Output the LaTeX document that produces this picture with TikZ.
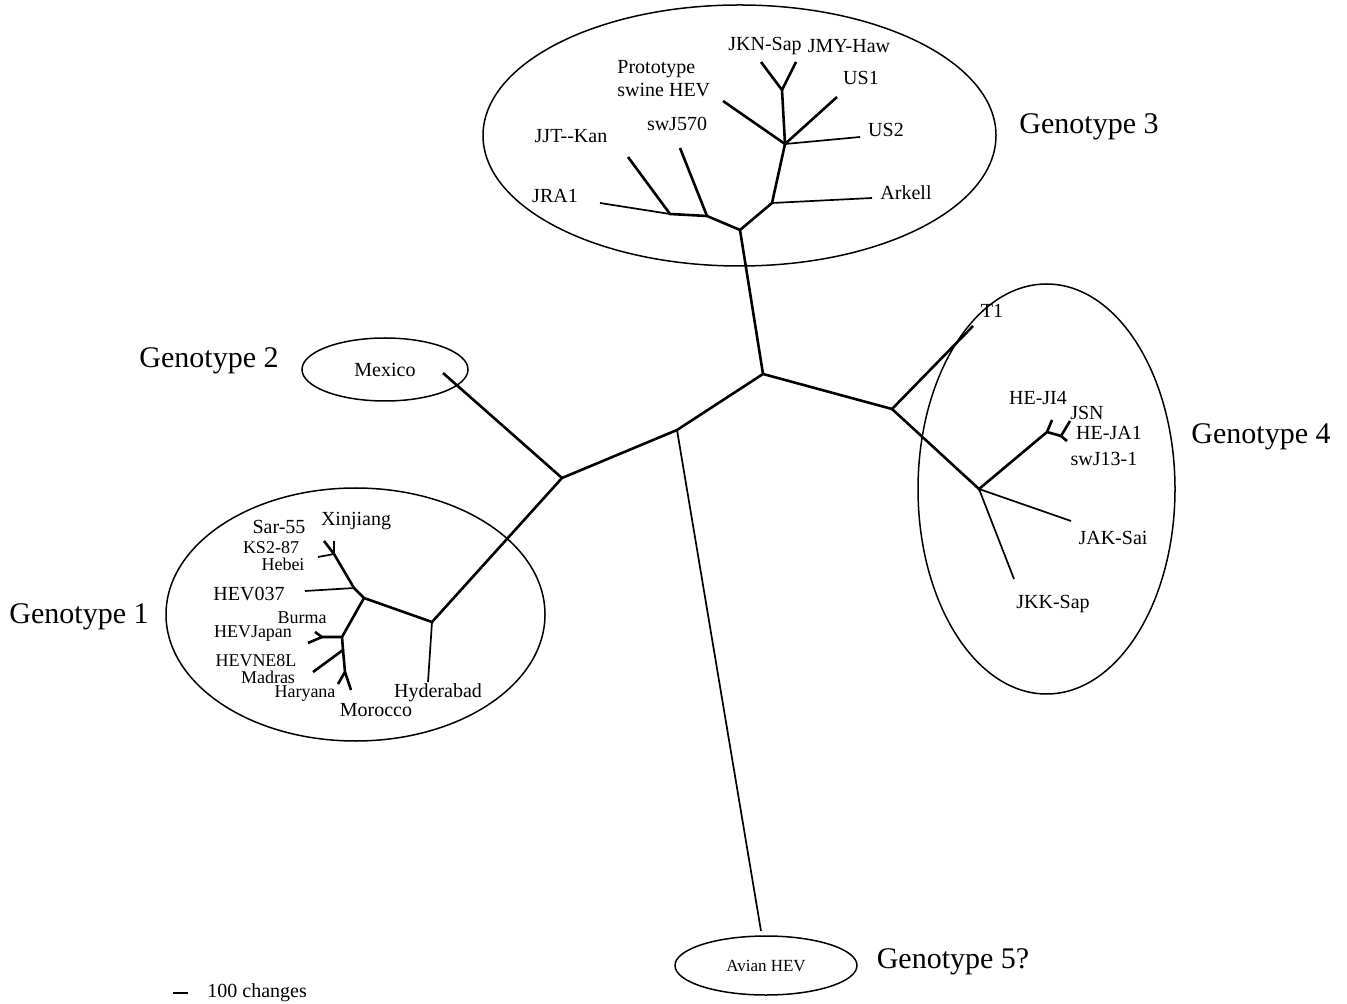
\documentclass[tikz,border=0pt]{standalone}
\usepackage{fontspec}
\setmainfont{Liberation Serif}
\usetikzlibrary{shapes.geometric}

\tikzset{
  br/.style={line width=1.3pt},
  twig/.style={line width=0.85pt},
  clade/.style={draw,ellipse,line width=0.75pt,inner sep=0pt,outer sep=0pt},
  leaf/.style={font=\fontsize{10}{11.5}\selectfont,inner sep=0pt},
  tight/.style={font=\fontsize{9}{10}\selectfont,inner sep=0pt},
  gtype/.style={font=\fontsize{15}{18}\selectfont,inner sep=0pt}
}

\begin{document}
\begin{tikzpicture}[x=0.5pt,y=-0.5pt]
  \useasboundingbox (0,0) rectangle (1347,1004);

  % Clade outlines.
  \node[clade,minimum width=256.5pt,minimum height=130.5pt] (g3) at (739.5,135.5) {};
  \node[clade,minimum width=83pt,minimum height=31.5pt,font=\fontsize{10}{12}\selectfont] (g2) at (385,369.5) {Mexico};
  \node[clade,minimum width=128.5pt,minimum height=205pt] (g4) at (1046.5,489) {};
  \node[clade,minimum width=189.5pt,minimum height=126.5pt] (g1) at (355.5,614.5) {};
  \node[clade,minimum width=91pt,minimum height=29.5pt,font=\fontsize{8.5}{10}\selectfont] (g5) at (766,965.5) {Avian HEV};

  \node[gtype] (lg1) at (79,617) {Genotype 1};
  \node[gtype] (lg2) at (209,361) {Genotype 2};
  \node[gtype] (lg3) at (1089,127) {Genotype 3};
  \node[gtype] (lg4) at (1261,437) {Genotype 4};
  \node[gtype] (lg5) at (953,962) {Genotype 5?};

  % Backbone of the unrooted tree.
  \coordinate (nA) at (763,374);
  \coordinate (nB) at (677,430);
  \coordinate (nC) at (562,478);
  \coordinate (nD) at (892,409);
  \coordinate (tMex) at (443,373);
  \coordinate (tAvian) at (761,931);
  \draw[br] (nC) -- (nB) -- (nA) -- (nD);
  \draw[br] (nC) -- (tMex);
  \draw[twig] (nB) -- (tAvian);

  % Genotype 3.
  \coordinate (g3a) at (740,230);
  \coordinate (g3b) at (707,216);
  \coordinate (g3c) at (670,214);
  \coordinate (g3d) at (772,203);
  \coordinate (g3e) at (785,144);
  \coordinate (g3f) at (782,90);
  \coordinate (tJRA1) at (600,203);
  \coordinate (tJJT) at (628,157);
  \coordinate (tsw570) at (680,148);
  \coordinate (tArkell) at (872,198);
  \coordinate (tProto) at (723,101);
  \coordinate (tUS2) at (860,137);
  \coordinate (tUS1) at (837,97);
  \coordinate (tJKN) at (761,62);
  \coordinate (tJMY) at (796,62);
  \draw[br] (nA) -- (g3a) -- (g3b) -- (g3c) -- (tJJT);
  \draw[twig] (g3c) -- (tJRA1);
  \draw[br] (g3b) -- (tsw570);
  \draw[br] (g3a) -- (g3d) -- (g3e) -- (g3f) -- (tJKN);
  \draw[br] (g3f) -- (tJMY);
  \draw[twig] (g3d) -- (tArkell);
  \draw[br] (g3e) -- (tProto);
  \draw[br] (g3e) -- (tUS1);
  \draw[twig] (g3e) -- (tUS2);

  \node[leaf] (lJKN) at (765,46) {JKN-Sap};
  \node[leaf] (lJMY) at (849,46) {JMY-Haw};
  \node[leaf,align=left,anchor=west] (lProto) at (617,79) {Prototype\\swine HEV};
  \node[leaf] (lUS1) at (861,78) {US1};
  \node[leaf] (lsw570) at (677,124) {swJ570};
  \node[leaf] (lJJT) at (571,136) {JJT-{}-Kan};
  \node[leaf] (lUS2) at (886,130) {US2};
  \node[leaf] (lJRA1) at (555,196) {JRA1};
  \node[leaf] (lArkell) at (906,193) {Arkell};

  % Genotype 4.
  \coordinate (g4a) at (979,489);
  \coordinate (g4b) at (1047,432);
  \coordinate (g4c) at (1061,436);
  \coordinate (tT1) at (973,326);
  \coordinate (tJI4) at (1052,420);
  \coordinate (tJSN) at (1070,421);
  \coordinate (tJA1) at (1067,441);
  \coordinate (tJAK) at (1071,521);
  \coordinate (tJKK) at (1014,579);
  \draw[br] (nD) -- (tT1);
  \draw[br] (nD) -- (g4a) -- (g4b) -- (tJI4);
  \draw[br] (g4b) -- (g4c) -- (tJSN);
  \draw[br] (g4c) -- (tJA1);
  \draw[twig] (g4a) -- (tJAK);
  \draw[twig] (g4a) -- (tJKK);

  \node[leaf] (lT1) at (992,311) {T1};
  \node[leaf] (lJI4) at (1038,398) {HE-JI4};
  \node[leaf] (lJSN) at (1087,413) {JSN};
  \node[leaf] (lJA1) at (1109,433) {HE-JA1};
  \node[leaf] (lJ13) at (1104,459) {swJ13-1};
  \node[leaf] (lJAK) at (1113,538) {JAK-Sai};
  \node[leaf] (lJKK) at (1053,604) {JKK-Sap};

  % Genotype 1.
  \coordinate (g1a) at (432,622);
  \coordinate (g1b) at (364,598);
  \coordinate (g1c) at (354,588);
  \coordinate (g1d) at (334,554);
  \coordinate (g1e) at (342,637);
  \coordinate (g1f) at (322,637);
  \coordinate (g1g) at (343,650);
  \coordinate (g1h) at (345,672);
  \coordinate (tHyd) at (428,682);
  \coordinate (tHEV037) at (305,591);
  \coordinate (tXin) at (334,541);
  \coordinate (tSar) at (324,541);
  \coordinate (tKS2) at (318,557);
  \coordinate (tBurma) at (315,632);
  \coordinate (tJap) at (308,643);
  \coordinate (tNE8L) at (313,672);
  \coordinate (tHar) at (338,684);
  \coordinate (tMor) at (351,690);
  \draw[br] (nC) -- (g1a) -- (g1b) -- (g1c) -- (g1d) -- (tSar);
  \draw[twig] (g1a) -- (tHyd);
  \draw[twig] (g1c) -- (tHEV037);
  \draw[twig] (g1d) -- (tXin);
  \draw[twig] (g1d) -- (tKS2);
  \draw[br] (g1b) -- (g1e) -- (g1f) -- (tBurma);
  \draw[br] (g1f) -- (tJap);
  \draw[br] (g1e) -- (g1g) -- (tNE8L);
  \draw[br] (g1g) -- (g1h) -- (tMor);
  \draw[br] (g1h) -- (tHar);

  \node[leaf] (lSar) at (279,527) {Sar-55};
  \node[leaf] (lXin) at (356,521) {Xinjiang};
  \node[tight] (lKS2) at (271,548) {KS2-87};
  \node[tight] (lHebei) at (283,564) {Hebei};
  \node[leaf] (lHEV037) at (249,594) {HEV037};
  \node[tight] (lBurma) at (302,618) {Burma};
  \node[tight] (lJap) at (253,634) {HEVJapan};
  \node[tight] (lNE8L) at (256,661) {HEVNE8L};
  \node[tight] (lMad) at (268,677) {Madras};
  \node[tight] (lHar) at (305,694) {Haryana};
  \node[leaf] (lMor) at (376,710) {Morocco};
  \node[leaf] (lHyd) at (438,693) {Hyderabad};

  % Scale bar.
  \coordinate (s0) at (173,993);
  \coordinate (s1) at (188,993);
  \draw[line width=0.8pt] (s0) -- (s1);
  \node[leaf,anchor=west] (lscale) at (207,993) {100 changes};
\end{tikzpicture}
\end{document}
